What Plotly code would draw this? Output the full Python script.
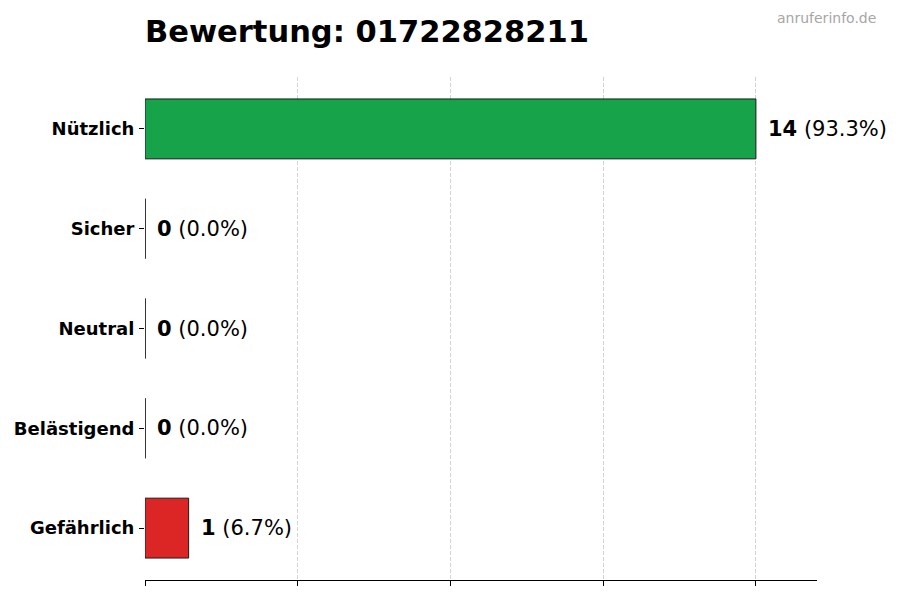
import plotly.graph_objects as go

categories = ["Nützlich", "Sicher", "Neutral", "Belästigend", "Gefährlich"]
counts = [14, 0, 0, 0, 1]
bar_colors = ["#16a34a", "#16a34a", "#9ca3af", "#f59e0b", "#dc2626"]
x_ticks = [0, 3.5, 7, 10.5, 14]
title_text = "Bewertung: 01722828211"
watermark = "anruferinfo.de"

total = sum(counts)
font = "DejaVu Sans"

fig = go.Figure()
fig.add_trace(go.Bar(
    x=counts, y=categories, orientation="h", width=0.6,
    marker=dict(color=bar_colors, line=dict(color="#1a1a1a", width=1)),
    hoverinfo="skip", showlegend=False))

# zero-valued bars still show their outline as a thin line at x=0
zero_cats = [c for c, v in zip(categories, counts) if v == 0]
zero_vals = [v for v in counts if v == 0]
fig.add_trace(go.Scatter(
    x=zero_vals, y=zero_cats, mode="markers",
    marker=dict(symbol="line-ns", size=43, line=dict(color="#1a1a1a", width=1)),
    hoverinfo="skip", showlegend=False))

for c, v in zip(categories, counts):
    pct = v * 100.0 / total
    fig.add_annotation(x=v, y=c, xref="x", yref="y", xanchor="left", yanchor="middle",
                       xshift=10, showarrow=False,
                       text="<b>{}</b> ({:.1f}%)".format(v, pct),
                       font=dict(family=font, size=21, color="black"))

fig.add_annotation(x=1.0908, y=1.117, xref="paper", yref="paper", xanchor="right",
                   yanchor="middle", showarrow=False, text=watermark,
                   font=dict(family=font, size=14, color="#a6a6a6"))

# page body adds an 8px offset, so the figure is a bit smaller than the window
fig.update_layout(
    width=892, height=592,
    margin=dict(l=137, r=83, t=69, b=20, autoexpand=False),
    plot_bgcolor="white", paper_bgcolor="white",
    title=dict(text="<b>" + title_text + "</b>", x=0, xref="paper", xanchor="left",
               y=0.961, yref="container", yanchor="middle",
               font=dict(family=font, size=30.5, color="black")),
    xaxis=dict(range=[0, 15.4], tickvals=x_ticks, showticklabels=False,
               ticks="outside", ticklen=5, tickcolor="black",
               showline=True, linecolor="black", linewidth=1,
               showgrid=True, gridcolor="#d4d4d4", griddash="4px,2px", gridwidth=1,
               zeroline=False, automargin=False),
    yaxis=dict(categoryorder="array", categoryarray=categories[::-1],
               range=[-0.52, 4.52], ticks="outside", ticklen=5, tickcolor="black",
               tickwidth=1, ticklabelstandoff=1, automargin=False,
               showline=False, showgrid=False, zeroline=False,
               tickfont=dict(family=font, size=18, color="black", weight="bold")),
)

fig.write_html("out.html")
